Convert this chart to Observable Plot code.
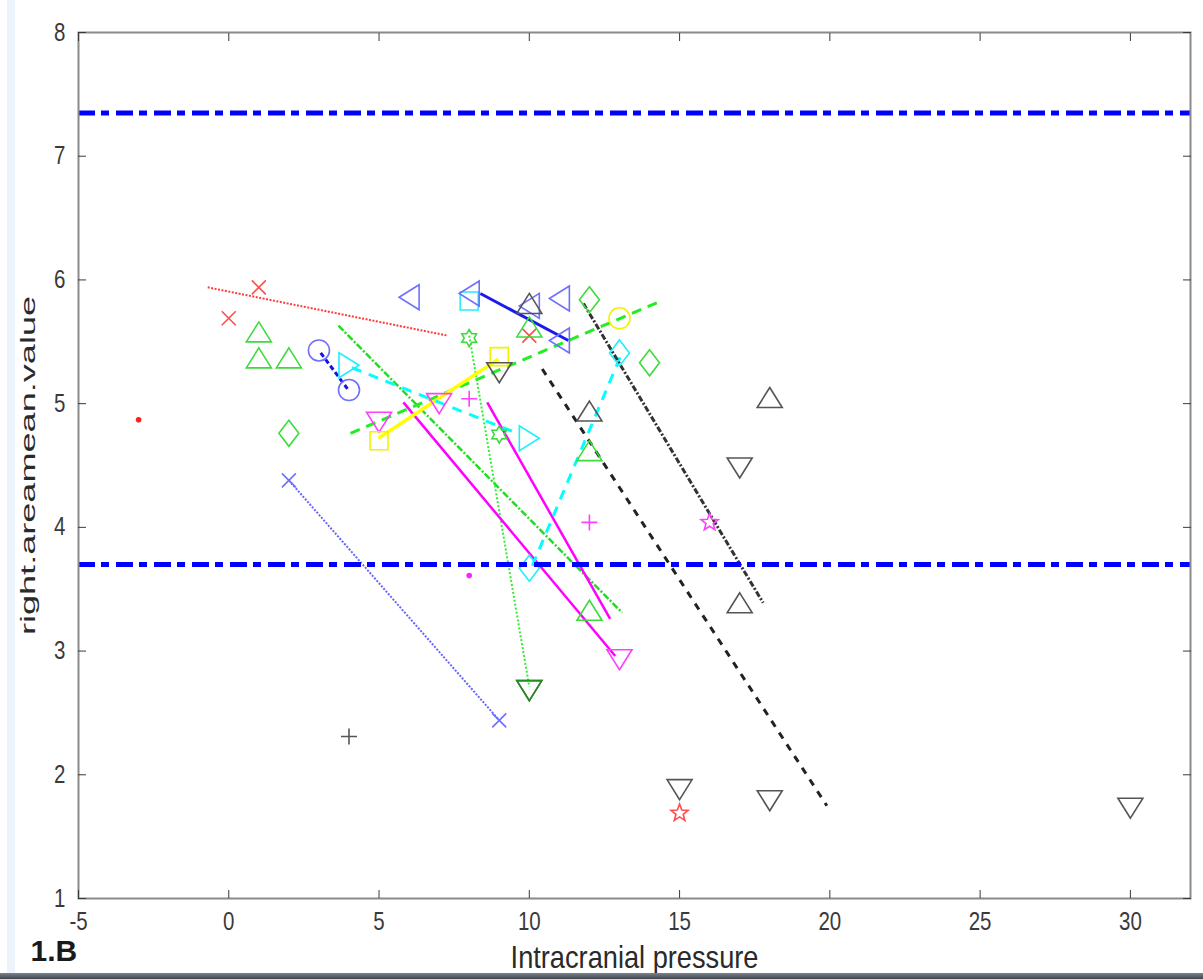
<!DOCTYPE html>
<html><head><meta charset="utf-8">
<script src="https://cdn.jsdelivr.net/npm/d3@7"></script>
<script src="https://cdn.jsdelivr.net/npm/@observablehq/plot@0.6"></script>
<style>
html,body{margin:0;padding:0;background:#fff;}
#wrap{position:relative;width:1203px;height:979px;overflow:hidden;background:#fff;}
#strip{position:absolute;left:7px;top:0;width:8px;height:973px;background:#edf3fa;}
#bar{position:absolute;left:0;top:973px;width:1203px;height:6px;background:linear-gradient(#7a838e,#3d4650);}
#chart{position:absolute;left:0;top:0;}
</style></head><body>
<div id="wrap"><div id="strip"></div><div id="chart"></div><div id="bar"></div></div>
<script>
// ---------- data ----------
const xTicks = [-5, 0, 5, 10, 15, 20, 25, 30];
const yTicks = [1, 2, 3, 4, 5, 6, 7, 8];
const refLevels = [7.35, 3.70];
const xTitle = "Intracranial pressure";
const yTitle = "right.areamean.value";
const panelTag = "1.B";

const pointSeries = [
  "A","A","A", "B", "C",
  "D","D","D","D","D","D",
  "E","E","E", "F","F", "G",
  "H","H","H", "I","I", "J", "K",
  "L","L", "M",
  "N","N", "O", "P","P",
  "Q","Q", "R","R", "S","S","S","S","S",
  "T", "U","U","U","U","U","U", "V","V","V","V"
];
const pointX = [
  0, 1, 10, -3, 15,
  1, 1, 2, 10, 12, 12,
  2, 12, 14, 8, 9, 10,
  5, 7, 13, 8, 12, 16, 8,
  5, 9, 13,
  4, 10, 8, 10, 13,
  3, 4, 2, 9, 6, 8, 10, 11, 11,
  4, 9, 10, 15, 17, 18, 30, 10, 12, 17, 18
];
const pointY = [
  5.69, 5.94, 5.55, 4.87, 1.69,
  5.58, 5.37, 5.37, 5.62, 4.62, 3.33,
  4.76, 5.84, 5.33, 5.53, 4.75, 2.68,
  4.85, 5.00, 2.93, 5.04, 4.04, 4.04, 3.61,
  4.70, 5.38, 5.69,
  5.31, 4.72, 5.83, 3.67, 5.41,
  5.43, 5.11, 4.38, 2.44, 5.86, 5.89, 5.79, 5.85, 5.51,
  2.31, 5.25, 2.68, 1.88, 4.48, 1.79, 1.73, 5.81, 4.94, 3.39, 5.05
];

const fitNames = ["f1","f2","f3","f4","f5","f6","f7","f8","f9","f10","f11","f12","f13","f14"];
const fitX1 = [-0.7, 3.65, 4.05, 8.0, 5.81, 8.6, 4.98, 4.1, 10.1, 3.06, 2.0, 8.37, 10.43, 11.8];
const fitY1 = [5.94, 5.63, 4.76, 5.55, 5.01, 5.01, 4.72, 5.29, 3.69, 5.41, 4.38, 5.89, 5.28, 5.81];
const fitX2 = [7.28, 13.09, 14.29, 10.0, 12.86, 12.69, 8.97, 9.6, 13.1, 3.95, 9.0, 11.3, 19.9, 17.78];
const fitY2 = [5.55, 3.31, 5.82, 2.71, 2.96, 3.26, 5.36, 4.76, 5.42, 5.12, 2.44, 5.51, 1.75, 3.39];

// ---------- styles ----------
function poly(pts) {
  return {draw(ctx) { ctx.moveTo(pts[0][0], pts[0][1]); for (let i = 1; i < pts.length; ++i) ctx.lineTo(pts[i][0], pts[i][1]); ctx.closePath(); }};
}
function starSym(n, ro, ri) {
  const pts = [];
  for (let i = 0; i < 2 * n; ++i) {
    const a = -Math.PI / 2 + i * Math.PI / n, r = i % 2 ? ri : ro;
    pts.push([r * Math.cos(a), r * Math.sin(a)]);
  }
  return poly(pts);
}
const sym = {
  triUp: poly([[0, -10], [12.5, 10], [-12.5, 10]]),
  triDown: poly([[0, 10], [12.5, -10], [-12.5, -10]]),
  triLeft: poly([[-10, 0], [10, -12.5], [10, 12.5]]),
  triRight: poly([[10, 0], [-10, -12.5], [-10, 12.5]]),
  diamond: poly([[0, -13], [10, 0], [0, 13], [-10, 0]]),
  square: poly([[-9, -9], [9, -9], [9, 9], [-9, 9]]),
  circle: {draw(ctx) { ctx.moveTo(10.5, 0); ctx.arc(0, 0, 10.5, 0, 2 * Math.PI); }},
  times: {draw(ctx) { ctx.moveTo(-7, -7); ctx.lineTo(7, 7); ctx.moveTo(7, -7); ctx.lineTo(-7, 7); }},
  plus: {draw(ctx) { ctx.moveTo(-8, 0); ctx.lineTo(8, 0); ctx.moveTo(0, -8); ctx.lineTo(0, 8); }},
  pentagram: starSym(5, 9, 3.8),
  hexagram: starSym(6, 8.5, 5),
  point: {draw(ctx) { ctx.moveTo(2.8, 0); ctx.arc(0, 0, 2.8, 0, 2 * Math.PI); }}
};
const RED = "#ff4d4d", GREEN = "#3ddc3d", MAG = "#ff40ff", YEL = "#f2f200", CYAN = "#22eeff", BLUE = "#7070ff", BLACK = "#555";
const seriesStyle = {
  A: {c: RED, s: "times"}, B: {c: "#ff2020", s: "point", fill: true}, C: {c: RED, s: "pentagram"},
  D: {c: GREEN, s: "triUp"}, E: {c: GREEN, s: "diamond"}, F: {c: GREEN, s: "hexagram"},
  H: {c: MAG, s: "triDown"}, I: {c: MAG, s: "plus"}, J: {c: MAG, s: "pentagram"}, K: {c: "#ff20ff", s: "point", fill: true},
  L: {c: YEL, s: "square"}, M: {c: YEL, s: "circle"},
  N: {c: CYAN, s: "triRight"}, O: {c: CYAN, s: "square"}, P: {c: CYAN, s: "diamond"},
  Q: {c: BLUE, s: "circle"}, R: {c: BLUE, s: "times"}, S: {c: BLUE, s: "triLeft"},
  T: {c: BLACK, s: "plus"}, U: {c: BLACK, s: "triDown"}, V: {c: BLACK, s: "triUp"},
  G: {c: "#1f8f1f", s: "triDown"}
};
const fitStyle = {
  f1: {c: "#ff3b3b", w: 2, d: "2,1.5"},
  f2: {c: "#22dd22", w: 2.5, d: "7,2,2,2"},
  f3: {c: "#22ee22", w: 3, d: "10,7"},
  f4: {c: "#33ee33", w: 2, d: "2,2"},
  f5: {c: "#ff00ff", w: 2.5, d: null},
  f6: {c: "#ff00ff", w: 2.5, d: null},
  f7: {c: "#ffff00", w: 3.5, d: null},
  f8: {c: "#00ffff", w: 3, d: "10,8"},
  f9: {c: "#00ffff", w: 3, d: "10,8"},
  f10: {c: "#1414dd", w: 3, d: "5,3"},
  f11: {c: "#6666ff", w: 2, d: "2,1.5"},
  f12: {c: "#1a1aee", w: 3, d: null},
  f13: {c: "#222", w: 3, d: "7,7"},
  f14: {c: "#333", w: 3, d: "6,2,2,2"}
};

// ---------- tables ----------
const points = pointSeries.map((s, i) => ({s, x: pointX[i], y: pointY[i]}));
const fits = fitNames.map((n, i) => ({n, x1: fitX1[i], y1: fitY1[i], x2: fitX2[i], y2: fitY2[i]}));

const fitMarks = fits.map(f => {
  const st = fitStyle[f.n];
  return Plot.link([f], {x1: "x1", y1: "y1", x2: "x2", y2: "y2", stroke: st.c, strokeWidth: st.w, strokeDasharray: st.d ?? undefined});
});
const dotMarks = Object.keys(seriesStyle).map(k => {
  const st = seriesStyle[k];
  return Plot.dot(points.filter(p => p.s === k), {x: "x", y: "y", symbol: sym[st.s], stroke: st.c, fill: st.fill ? st.c : "none", strokeWidth: st.fill ? 0 : 1.6});
});

const fmt = d => String(d);
const axisCommon = {color: "#3a3a3a", tickSize: -8, label: null, fontSize: 25};
const chart = Plot.plot({
  width: 1203, height: 979,
  marginLeft: 78, marginRight: 13, marginTop: 32, marginBottom: 81,
  style: {fontFamily: "'Liberation Sans', Arial, Helvetica, sans-serif", background: "transparent", overflow: "visible"},
  x: {domain: [-5, 32]},
  y: {domain: [1, 8]},
  marks: [
    ...fitMarks,
    ...dotMarks,
    Plot.ruleY(refLevels, {stroke: "#0000ff", strokeWidth: 5, strokeDasharray: "17,6,8,7"}),
    Plot.frame({stroke: "#8a8a8a", strokeWidth: 2}),
    Plot.axisX(xTicks, {...axisCommon, anchor: "bottom", tickPadding: 22, tickFormat: fmt}),
    Plot.axisY(yTicks, {...axisCommon, anchor: "left", tickPadding: 21, tickFormat: fmt}),
    Plot.axisX(xTicks, {...axisCommon, anchor: "top", tickFormat: () => ""}),
    Plot.axisY(yTicks, {...axisCommon, anchor: "right", tickFormat: () => ""}),
    Plot.text([xTitle], {frameAnchor: "bottom", dy: 69, textAnchor: "middle", fontSize: 32, fill: "#2a2a2a"}),
    Plot.text([yTitle], {frameAnchor: "left", dx: -50, rotate: -90, textAnchor: "middle", fontSize: 21, fill: "#2a2a2a"}),
    Plot.text([panelTag], {frameAnchor: "bottom-left", dx: -48, dy: 62, textAnchor: "start", fontSize: 30, fontWeight: "bold", fill: "#1a1a1a"})
  ]
});
document.getElementById("chart").appendChild(chart);

// emulate the reference's non-uniform stretch of text (scale appended in local coordinates)
function scaleEl(t, sx, sy) {
  const tr = t.getAttribute("transform") || "";
  t.setAttribute("transform", `${tr} scale(${sx},${sy})`);
}
chart.querySelectorAll('g[aria-label="x-axis tick label"] text').forEach(t => scaleEl(t, 0.82, 1));
chart.querySelectorAll('g[aria-label="y-axis tick label"] text').forEach(t => scaleEl(t, 0.82, 1));
chart.querySelectorAll("text").forEach(t => {
  if (t.textContent === xTitle) scaleEl(t, 0.85, 1);
  else if (t.textContent === yTitle) scaleEl(t, 1.72, 1);
});
</script>
</body></html>
